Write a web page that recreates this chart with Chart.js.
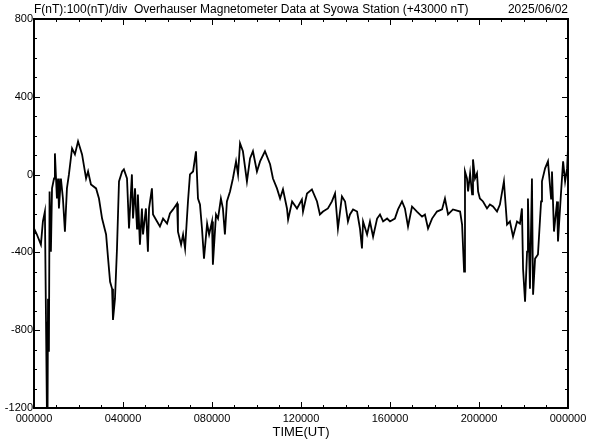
<!DOCTYPE html>
<html lang="en">
<head>
    <meta charset="UTF-8">
    <title>Syowa Overhauser Magnetometer</title>
    <script src="https://cdn.jsdelivr.net/npm/chart.js"></script>
    <style>
        body { margin: 0; background: #fff; }
        #wrap { width: 592px; height: 440px; }
    </style>
</head>
<body>
    <div id="wrap"><canvas id="magChart" width="592" height="440"></canvas></div>
    <script>
        // time in hours UT, total field minus 43000 nT
        const timeHours = [
            0.00, 0.13, 0.31, 0.40, 0.49, 0.54, 0.58, 0.61, 0.63, 0.67, 0.70, 0.76, 0.81, 0.90, 0.94,
            1.03, 1.08, 1.12, 1.21, 1.30, 1.39, 1.48, 1.57, 1.71, 1.84, 1.98, 2.16, 2.34, 2.43, 2.56, 2.79,
            2.92, 3.06, 3.24, 3.33, 3.42, 3.51, 3.55, 3.64, 3.73, 3.82, 3.96, 4.04, 4.18, 4.27, 4.40,
            4.45, 4.54, 4.63, 4.67, 4.76, 4.85, 4.90, 5.03, 5.12, 5.17, 5.30, 5.35, 5.53, 5.66, 5.80,
            5.98, 6.11, 6.25, 6.43, 6.47, 6.61, 6.70, 6.79, 6.92, 7.01, 7.15, 7.28, 7.37, 7.46, 7.55,
            7.64, 7.78, 7.87, 8.00, 8.04, 8.18, 8.27, 8.40, 8.49, 8.58, 8.67, 8.81, 8.94, 9.08, 9.17, 9.26,
            9.39, 9.57, 9.71, 9.84, 10.02, 10.16, 10.38, 10.61, 10.74, 10.92, 11.06, 11.19, 11.37, 11.42,
            11.60, 11.82, 12.04, 12.09, 12.27, 12.49, 12.72, 12.85, 12.99, 13.21, 13.39, 13.53, 13.66,
            13.84, 13.98, 14.11, 14.20, 14.34, 14.52, 14.65, 14.74, 14.79, 14.97, 15.10, 15.24, 15.42,
            15.55, 15.69, 15.87, 16.00, 16.22, 16.36, 16.54, 16.67, 16.81, 16.99, 17.21, 17.44, 17.57,
            17.71, 17.89, 18.11, 18.34, 18.47, 18.61, 18.83, 19.15, 19.24, 19.33, 19.37, 19.46, 19.51,
            19.60, 19.69, 19.73, 19.82, 19.91, 19.96, 20.04, 20.18, 20.36, 20.49, 20.63, 20.81, 20.94,
            21.12, 21.26, 21.39, 21.53, 21.71, 21.84, 21.93, 21.98, 22.07, 22.16, 22.20, 22.29, 22.38,
            22.43, 22.52, 22.65, 22.79, 22.83, 22.97, 23.10, 23.24, 23.28, 23.37, 23.51, 23.55, 23.69,
            23.78, 23.87, 23.96, 24.00
        ];
        const fieldNT = [
            -277, -308, -360, -241, -190, -757, -1210, -1210, -638, -911, -87, -396, -71, -20, 109,
            -123, -20, -174, -20, -123, -293, -71, 1, 135, 104, 171, 104, -20, 16, -51, -71,
            -123, -226, -308, -432, -551, -587, -747, -638, -380, -35, 16, 27, -20, -277, 1,
            -226, -71, -277, -102, -360, -174, -308, -174, -396, -174, -71, -205, -241, -267, -226,
            -252, -200, -179, -149, -293, -360, -308, -380, -138, 1, 16, 120, -123, -154, -277,
            -432, -252, -308, -241, -463, -205, -226, -123, -174, -308, -138, -87, -20, 68, 1, 161,
            120, -35, 83, 120, 16, 68, 120, 53, -20, -71, -123, -76, -174, -231,
            -138, -174, -128, -190, -97, -76, -138, -205, -190, -174, -138, -97, -277,
            -112, -138, -241, -205, -179, -190, -277, -380, -241, -308, -241, -319, -226,
            -205, -241, -226, -241, -226, -179, -138, -174, -267, -164, -190, -216, -205,
            -277, -226, -190, -179, -123, -205, -179, -190, -257, -499, 16, -20, -87,
            6, -102, 78, -20, 6, -87, -123, -138, -174, -154, -164, -190, -154,
            -35, -257, -241, -319, -241, -252, -174, -484, -654, -396, -123, -587, -20,
            -618, -432, -411, -138, -35, 32, 68, -123, 16, -293, -138, -344, -87,
            68, -35, 32, 135
        ];
        const xTickHours = [0, 4, 8, 12, 16, 20, 24];
        const yTickValues = [-1200, -800, -400, 0, 400, 800];

        const headerText = 'F(nT):100(nT)/div  Overhauser Magnetometer Data at Syowa Station (+43000 nT)';
        const dateText = '2025/06/02';
        const fontFamily = '"Liberation Sans", Arial, sans-serif';

        // frame, inward tick marks and header text
        const framePlugin = {
            id: 'frame',
            afterDraw(chart) {
                const { ctx, chartArea: a, scales } = chart;
                ctx.save();
                ctx.strokeStyle = '#000';
                ctx.lineWidth = 2;
                ctx.strokeRect(a.left, a.top, a.right - a.left, a.bottom - a.top);

                ctx.lineWidth = 1;
                ctx.beginPath();
                for (let h = 0; h <= 24; h++) {
                    const x = Math.round(scales.x.getPixelForValue(h)) + 0.5;
                    const len = h % 4 === 0 ? 6 : 3;
                    ctx.moveTo(x, a.bottom); ctx.lineTo(x, a.bottom - len);
                    ctx.moveTo(x, a.top); ctx.lineTo(x, a.top + len);
                }
                for (let v = -1200; v <= 800; v += 100) {
                    const y = Math.round(scales.y.getPixelForValue(v)) + 0.5;
                    const len = v % 400 === 0 ? 6 : 3;
                    ctx.moveTo(a.left, y); ctx.lineTo(a.left + len, y);
                    ctx.moveTo(a.right, y); ctx.lineTo(a.right - len, y);
                }
                ctx.stroke();

                ctx.fillStyle = '#000';
                ctx.font = '12px ' + fontFamily;
                ctx.textBaseline = 'alphabetic';
                ctx.textAlign = 'left';
                ctx.fillText(headerText, a.left, 13);
                ctx.textAlign = 'right';
                ctx.fillText(dateText, a.right, 13);
                ctx.restore();
            }
        };

        const ctxMag = document.getElementById('magChart').getContext('2d');
        new Chart(ctxMag, {
            type: 'line',
            data: {
                datasets: [{
                    data: timeHours.map((t, i) => ({ x: t, y: fieldNT[i] })),
                    borderColor: '#000',
                    borderWidth: 1.8,
                    pointRadius: 0,
                    tension: 0
                }]
            },
            options: {
                responsive: false,
                animation: false,
                layout: { padding: { top: 19, right: 24, left: 0, bottom: 0 } },
                plugins: {
                    legend: { display: false },
                    tooltip: { enabled: false }
                },
                scales: {
                    x: {
                        type: 'linear',
                        min: 0,
                        max: 24,
                        afterBuildTicks: (s) => { s.ticks = xTickHours.map(v => ({ value: v })); },
                        afterFit: (s) => { s.height = 32; },
                        grid: { display: false, drawTicks: false },
                        border: { display: false },
                        ticks: {
                            color: '#000',
                            padding: 4,
                            maxRotation: 0,
                            font: { size: 11, family: fontFamily },
                            callback: (v) => String((v % 24) * 10000).padStart(6, '0')
                        },
                        title: {
                            display: true,
                            text: 'TIME(UT)',
                            color: '#000',
                            font: { size: 13, family: fontFamily },
                            padding: { top: 0, bottom: 0 }
                        }
                    },
                    y: {
                        min: -1200,
                        max: 800,
                        afterBuildTicks: (s) => { s.ticks = yTickValues.map(v => ({ value: v })); },
                        afterFit: (s) => { s.width = 34; },
                        grid: { display: false, drawTicks: false },
                        border: { display: false },
                        ticks: {
                            color: '#000',
                            padding: 1,
                            font: { size: 11, family: fontFamily },
                            callback: (v) => String(v)
                        }
                    }
                }
            },
            plugins: [framePlugin]
        });
    </script>
</body>
</html>
